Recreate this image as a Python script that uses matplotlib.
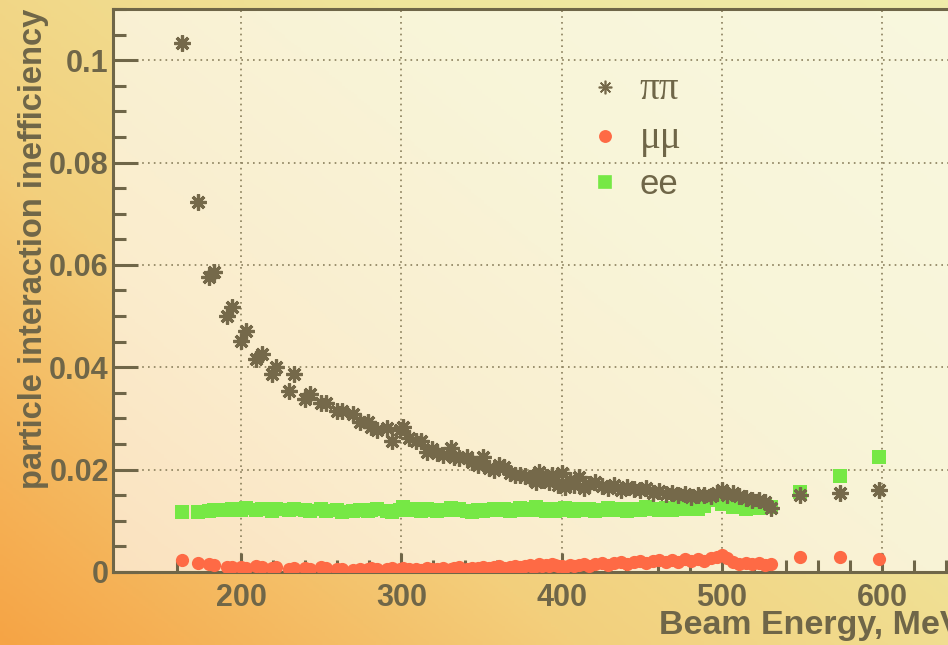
import numpy as np
import matplotlib
matplotlib.use("Agg")
import matplotlib.pyplot as plt
from matplotlib.colors import LinearSegmentedColormap

plt.rcParams['font.family'] = ['Liberation Sans', 'DejaVu Sans']

# beam energies (MeV)
energy = [163, 173, 180, 183, 191, 194, 200, 203, 209, 213, 219, 222, 230, 233,
          240, 243, 250, 253, 260, 263, 270, 274, 279, 281, 285, 291, 294, 299,
          301, 305, 309, 312, 316, 319, 322, 326, 331, 333, 336, 341, 344, 348,
          351, 355, 358, 361, 364, 368, 371, 374, 377, 380, 382, 384, 386, 388,
          390, 392, 394, 396, 398, 400, 402, 405, 408, 411, 414, 417, 421, 425,
          429, 433, 437, 441, 445, 449, 453, 457, 461, 465, 469, 473, 477, 481,
          485, 489, 493, 497, 500, 503, 507, 511, 515, 519, 523, 527, 531, 549,
          574, 598]

pipi = [0.1033, 0.0722, 0.0576, 0.0587, 0.0500, 0.0518, 0.0451, 0.0470, 0.0416,
        0.0425, 0.0386, 0.0400, 0.0353, 0.0386, 0.0337, 0.0347, 0.0331, 0.0331,
        0.0314, 0.0314, 0.0308, 0.0294, 0.0294, 0.0284, 0.0278, 0.0282, 0.0255,
        0.0278, 0.0284, 0.0262, 0.0255, 0.0255, 0.0235, 0.0240, 0.0233, 0.0229,
        0.0243, 0.0224, 0.0222, 0.0225, 0.0214, 0.0210, 0.0225, 0.0204, 0.0200,
        0.0210, 0.0206, 0.0194, 0.0190, 0.0190, 0.0188, 0.0184, 0.0186, 0.0175,
        0.0196, 0.0180, 0.0185, 0.0175, 0.0190, 0.0180, 0.0170, 0.0194, 0.0167,
        0.0180, 0.0170, 0.0186, 0.0165, 0.0172, 0.0176, 0.0168, 0.0165, 0.0170,
        0.0160, 0.0167, 0.0162, 0.0161, 0.0165, 0.0155, 0.0158, 0.0152, 0.0155,
        0.0150, 0.0152, 0.0147, 0.0150, 0.0151, 0.0148, 0.0155, 0.0161, 0.0150,
        0.0155, 0.0148, 0.0145, 0.0141, 0.0140, 0.0137, 0.0125, 0.0151, 0.0155,
        0.0161]

mumu = [0.0024, 0.0017, 0.0016, 0.0014, 0.0010, 0.0009, 0.0010, 0.0008, 0.0012,
        0.0010, 0.0008, 0.0009, 0.0006, 0.0007, 0.0008, 0.0006, 0.0010, 0.0008,
        0.0006, 0.0005, 0.0004, 0.0006, 0.0005, 0.0007, 0.0006, 0.0005, 0.0008,
        0.0006, 0.0007, 0.0005, 0.0006, 0.0004, 0.0007, 0.0005, 0.0006, 0.0008,
        0.0005, 0.0007, 0.0009, 0.0006, 0.0008, 0.0007, 0.0010, 0.0008, 0.0009,
        0.0011, 0.0008, 0.0010, 0.0012, 0.0009, 0.0011, 0.0013, 0.0010, 0.0012,
        0.0015, 0.0011, 0.0014, 0.0012, 0.0016, 0.0013, 0.0011, 0.0012, 0.0010,
        0.0014, 0.0011, 0.0013, 0.0016, 0.0012, 0.0015, 0.0018, 0.0014, 0.0017,
        0.0020, 0.0016, 0.0019, 0.0022, 0.0018, 0.0021, 0.0024, 0.0020, 0.0023,
        0.0019, 0.0025, 0.0022, 0.0026, 0.0021, 0.0028, 0.0030, 0.0033, 0.0027,
        0.0020, 0.0016, 0.0018, 0.0015, 0.0017, 0.0014, 0.0016, 0.0029, 0.0029,
        0.0025]

ee = [0.0118, 0.0118, 0.0120, 0.0122, 0.0121, 0.0124, 0.0122, 0.0125, 0.0121,
      0.0124, 0.0120, 0.0123, 0.0121, 0.0124, 0.0122, 0.0120, 0.0123, 0.0119,
      0.0121, 0.0118, 0.0120, 0.0122, 0.0119, 0.0121, 0.0124, 0.0120, 0.0118,
      0.0122, 0.0126, 0.0121, 0.0124, 0.0120, 0.0123, 0.0121, 0.0119, 0.0122,
      0.0125, 0.0121, 0.0123, 0.0120, 0.0118, 0.0121, 0.0119, 0.0122, 0.0124,
      0.0121, 0.0123, 0.0120, 0.0122, 0.0125, 0.0121, 0.0124, 0.0122, 0.0126,
      0.0121, 0.0123, 0.0120, 0.0124, 0.0122, 0.0119, 0.0123, 0.0121, 0.0125,
      0.0122, 0.0120, 0.0124, 0.0121, 0.0123, 0.0120, 0.0122, 0.0125, 0.0121,
      0.0123, 0.0120, 0.0124, 0.0122, 0.0126, 0.0123, 0.0121, 0.0125, 0.0122,
      0.0127, 0.0124, 0.0126, 0.0123, 0.0128, 0.0140, 0.0145, 0.0132, 0.0143,
      0.0126, 0.0128, 0.0124, 0.0127, 0.0125, 0.0128, 0.0126, 0.0157, 0.0188,
      0.0224]

olive = '#6f6648'
fig = plt.figure(figsize=(9.48, 6.45), dpi=100)

# diagonal gradient background
bg = fig.add_axes([0, 0, 1, 1], zorder=0)
gx, gy = np.meshgrid(np.linspace(0, 1, 300), np.linspace(0, 1, 300))
cmap = LinearSegmentedColormap.from_list('bg', ['#f6a445', '#f3cf7c', '#efe59b', '#f0ecaa'])
bg.imshow(0.55 * gx + 0.45 * gy, cmap=cmap, origin='lower', extent=[0, 1, 0, 1], aspect='auto', vmin=0, vmax=1)
bg.axis('off')

ax = fig.add_axes([0.1192, 0.1132, 0.8956, 0.8729], zorder=1)
ax.set_facecolor((1, 1, 1, 0.62))

ax.plot(energy, pipi, linestyle='none', marker=(8, 2, 0), markersize=11.5, markeredgewidth=2.3,
        color='#75694a', label='ππ', zorder=3)
ax.plot(energy, mumu, linestyle='none', marker='o', markersize=9.5, color='#fe6a45',
        markeredgewidth=0, label='μμ', zorder=3)
ax.plot(energy, ee, linestyle='none', marker='s', markersize=9.5, color='#76e845',
        markeredgewidth=0, label='ee', zorder=2)

ax.set_xlim(120, 650)
ax.set_ylim(0, 0.11)
ax.set_xticks([200, 300, 400, 500, 600])
ax.set_xticks(np.arange(160, 650, 20), minor=True)
ax.set_yticks([0, 0.02, 0.04, 0.06, 0.08, 0.1])
ax.set_yticklabels(['0', '0.02', '0.04', '0.06', '0.08', '0.1'])
ax.set_yticks(np.arange(0, 0.111, 0.005), minor=True)

ax.tick_params(which='both', direction='in', colors=olive, width=2.2)
ax.tick_params(which='major', length=18, labelsize=22, pad=3)
ax.tick_params(which='minor', length=9)
ax.tick_params(axis='x', which='major', length=14, pad=8)
ax.tick_params(axis='x', which='minor', length=9)
for lab in ax.get_xticklabels() + ax.get_yticklabels():
    lab.set_fontweight('bold')
for s in ax.spines.values():
    s.set_color(olive)
    s.set_linewidth(2.2)

ax.grid(True, which='major', color='#8a7f5c', linestyle=(0, (1, 2.5)), linewidth=1.2)

ax.set_ylabel('particle interaction inefficiency', fontsize=23.5, fontweight='bold',
              color=olive, loc='top', labelpad=0)
ax.set_xlabel('Beam Energy, MeV', fontsize=24.5, fontweight='bold', color=olive,
              loc='right', labelpad=-2)

leg = ax.legend(loc='upper left', bbox_to_anchor=(0.555, 0.889), frameon=False,
                fontsize=25, labelcolor=olive, handletextpad=0.4, labelspacing=0.33,
                markerscale=0.85, handlelength=1.2, borderpad=0, borderaxespad=0)
for h in leg.legend_handles:
    h.set_markeredgewidth(1.2)
for t, fam in zip(leg.get_texts(), ['Liberation Serif', 'Liberation Serif', 'Liberation Sans']):
    t.set_family(fam)
    if fam == 'Liberation Serif':
        t.set_fontsize(28)

fig.savefig('out.png', dpi=100)
